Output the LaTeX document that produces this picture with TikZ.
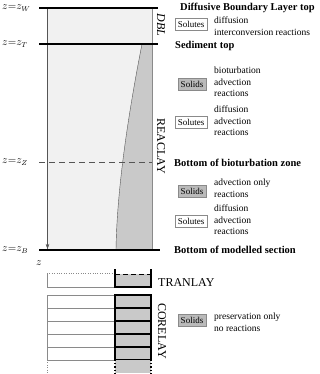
\documentclass[tikz,border=0pt]{standalone}
\usepackage{fontspec}
\setmainfont{Liberation Serif}
\usetikzlibrary{arrows.meta}
\definecolor{pale}{HTML}{F1F1F1}
\definecolor{solidgray}{HTML}{C9C9C9}
\definecolor{edge}{HTML}{8A8A8A}
\definecolor{dashgray}{HTML}{555555}

\begin{document}
\begin{tikzpicture}[x=1pt,y=-1pt,
  level/.style={line width=1.4pt,black},
  phase/.style={draw=edge,inner sep=2.6pt,font=\fontsize{9}{10}\selectfont,minimum height=12pt},
  solidsbox/.style={phase,fill=black!27},
  solutesbox/.style={phase,fill=white},
  proc/.style={anchor=west,align=left,inner sep=0pt,font=\fontsize{9.5}{11.5}\selectfont},
  bound/.style={anchor=west,inner sep=0pt,font=\bfseries\fontsize{10.5}{12}\selectfont},
  zlab/.style={anchor=west,inner sep=0pt,font=\fontsize{10.5}{12}\selectfont},
  layer/.style={inner sep=0pt,font=\fontsize{12}{14}\selectfont},
  cell/.style={draw=edge,fill=white},
  corecell/.style={draw=black,line width=1.2pt,fill=solidgray},
  >={Stealth[length=5pt,width=3.5pt]}]
\useasboundingbox (0,0) rectangle (320,374);
\fill[pale,draw=edge] (47,8) rectangle (152,250);
\fill[solidgray] (142,44) .. controls (132,95) and (117,180) .. (116,250) -- (152,250) -- (152,44) -- cycle;
\draw[dashgray,thin] (142,44) .. controls (132,95) and (117,180) .. (116,250);
\draw[edge] (152,8) -- (152,250);
\coordinate (top) at (47.5,8);
\coordinate (bottom) at (47.5,249);
\draw[->,dashgray] (top) -- (bottom);
\draw[level] (39,8) -- (158,8);
\draw[level] (39,44) -- (158,44);
\draw[dashgray,line width=1pt,dash pattern=on 6pt off 4pt] (39,162) -- (152,162);
\draw[level] (39,250) -- (160,250);
\node[zlab] (zW) at (2,8) {$z{=}z_W$};
\node[zlab] (zT) at (2,44) {$z{=}z_T$};
\node[zlab] (zZ) at (2,162) {$z{=}z_Z$};
\node[zlab] (zB) at (2,250) {$z{=}z_B$};
\node[zlab] (zcore) at (36,263) {$z$};
\node[layer,rotate=-90,font=\itshape\fontsize{12}{14}\selectfont] (dbl) at (161,25) {DBL};
\node[layer,rotate=-90] (reaclay) at (161,146) {REACLAY};
\node[layer,anchor=west] (tranlay) at (158,283) {TRANLAY};
\node[layer,rotate=-90] (corelay) at (162,331) {CORELAY};
\node[bound] (dbltop) at (180,8) {Diffusive Boundary Layer top};
\node[bound] (sedtop) at (175,46) {Sediment top};
\node[bound] (bioz) at (174,163) {Bottom of bioturbation zone};
\node[bound] (modbot) at (174,250) {Bottom of modelled section};
\node[solutesbox] (solutesdbl) at (191,24) {Solutes};
\node[proc] (procdbl) at (214,26) {diffusion\\interconversion reactions};
\node[solidsbox] (solidsbio) at (192,84) {Solids};
\node[proc] (procsolidsbio) at (214,82) {bioturbation\\advection\\reactions};
\node[solutesbox] (solutesbio) at (191,122) {Solutes};
\node[proc] (procsolutesbio) at (214,121) {diffusion\\advection\\reactions};
\node[solidsbox] (solidsdeep) at (192,191) {Solids};
\node[proc] (procsolidsdeep) at (214,188) {advection only\\reactions};
\node[solutesbox] (solutesdeep) at (191,221) {Solutes};
\node[proc] (procsolutesdeep) at (214,220) {diffusion\\advection\\reactions};
\node[solidsbox] (solidscore) at (192,320) {Solids};
\node[proc] (procsolidscore) at (214,322) {preservation only\\no reactions};
\fill[solidgray] (115,274) rectangle (151,287);
\draw[edge] (115,273) -- (115,287) -- (47,287) -- (47,273);
\draw[edge,dotted] (47,273) -- (115,273);
\draw[black,line width=1.2pt] (115,269) -- (115,287) -- (151,287) -- (151,269);
\draw[black,line width=1pt,dash pattern=on 5pt off 3pt] (115,274) -- (151,274);
\foreach \row in {0,...,4}{
  \draw[cell] (47,295+13*\row) rectangle (115,308+13*\row);
  \draw[corecell] (115,295+13*\row) rectangle (151,308+13*\row);
}
\fill[solidgray] (115,360) rectangle (151,373);
\draw[edge,dotted] (47,360) -- (47,373);
\draw[black,line width=1.2pt,dotted] (115,360) -- (115,373);
\draw[black,line width=1.2pt,dotted] (151,360) -- (151,373);
\end{tikzpicture}
\end{document}
